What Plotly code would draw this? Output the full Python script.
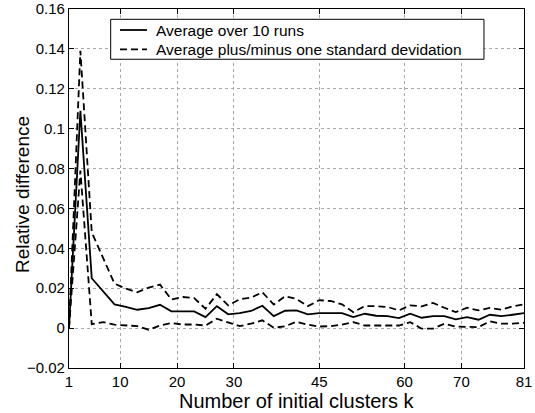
import plotly.graph_objects as go

k_values = [1, 3, 5, 7, 9, 11, 13, 15, 17, 19, 21, 23, 25, 27, 29, 31, 33, 35, 37, 39,
            41, 43, 45, 47, 49, 51, 53, 55, 57, 59, 61, 63, 65, 67, 69, 71, 73, 75, 77, 79, 81]

avg_diff = [0, 0.109, 0.025, 0.0186, 0.0119, 0.0106, 0.0092, 0.010, 0.0117, 0.0084,
            0.0084, 0.0084, 0.0055, 0.011, 0.0069, 0.0075, 0.0086, 0.0112, 0.006, 0.0087,
            0.0089, 0.0069, 0.0075, 0.0075, 0.0075, 0.0055, 0.0072, 0.0062, 0.006, 0.005,
            0.0072, 0.0052, 0.006, 0.006, 0.0044, 0.0055, 0.0042, 0.0067, 0.006, 0.0067,
            0.0075]

upper_diff = [0, 0.139, 0.048, 0.035, 0.0223, 0.0198, 0.018, 0.0203, 0.0218, 0.0144,
              0.0156, 0.0151, 0.0097, 0.017, 0.0114, 0.0144, 0.0153, 0.018, 0.0118, 0.016,
              0.0146, 0.011, 0.014, 0.0136, 0.0119, 0.008, 0.011, 0.011, 0.0106, 0.0089,
              0.0114, 0.0109, 0.0126, 0.0102, 0.008, 0.0102, 0.0089, 0.0101, 0.0092, 0.0109,
              0.0119]

lower_diff = [0, 0.079, 0.002, 0.003, 0.0017, 0.0015, 0.001, -0.0008, 0.0013, 0.0025,
              0.0018, 0.0018, 0.0013, 0.0047, 0.003, 0.001, 0.0022, 0.0039, 0.0002, 0.0009,
              0.0032, 0.0017, 0.0008, 0.001, 0.0018, 0.003, 0.0013, 0.0013, 0.001, 0.0013,
              0.003, -0.0003, -0.0003, 0.0022, 0.0008, 0.0008, 0.0005, 0.0034, 0.0022, 0.0022,
              0.0027]

x_tickvals = [1, 10, 20, 30, 45, 60, 70, 81]
y_tickvals = [-0.02, 0, 0.02, 0.04, 0.06, 0.08, 0.1, 0.12, 0.14, 0.16]
y_ticktext = ["\u22120.02", "0", "0.02", "0.04", "0.06", "0.08", "0.1", "0.12", "0.14", "0.16"]

x_title = "Number of initial clusters k"
y_title = "Relative difference"
legend_labels = ["Average over 10 runs", "Average plus/minus one standard devidation"]

FONT = "Liberation Sans, Arial, Helvetica, sans-serif"
DASH = "7px,4px"

fig = go.Figure()
fig.add_trace(go.Scatter(x=k_values, y=avg_diff, mode="lines",
                         name=legend_labels[0],
                         line=dict(color="black", width=1.8)))
fig.add_trace(go.Scatter(x=k_values, y=upper_diff, mode="lines",
                         name=legend_labels[1],
                         line=dict(color="black", width=1.8, dash=DASH)))
fig.add_trace(go.Scatter(x=k_values, y=lower_diff, mode="lines",
                         name=legend_labels[1],
                         line=dict(color="black", width=1.8, dash=DASH)))

axis_common = dict(
    showline=True, linecolor="black", linewidth=1.3, mirror="ticks",
    ticks="inside", ticklen=5, tickcolor="black", tickwidth=1,
    showgrid=True, gridcolor="#a8a8a8", griddash="dot", gridwidth=1,
    zeroline=False, automargin=False,
    tickfont=dict(family=FONT, size=15, color="black"),
)

# legend box drawn in paper coordinates (MATLAB-style compact legend)
legend_shapes = [
    dict(type="rect", xref="paper", yref="paper", x0=0.0916, x1=0.912,
         y0=0.860, y1=0.9713, line=dict(color="black", width=1),
         fillcolor="white", layer="above"),
    dict(type="line", xref="paper", yref="paper", x0=0.1121, x1=0.1714,
         y0=0.9415, y1=0.9415, line=dict(color="black", width=1.8), layer="above"),
    dict(type="line", xref="paper", yref="paper", x0=0.1121, x1=0.1714,
         y0=0.8877, y1=0.8877, line=dict(color="black", width=1.8, dash=DASH),
         layer="above"),
]

annotations = [
    dict(text=x_title, xref="paper", yref="paper", x=0.5, y=0,
         xanchor="center", yanchor="top", yshift=-20, showarrow=False,
         font=dict(family=FONT, size=20, color="black")),
    dict(text=y_title, xref="paper", yref="paper", x=-0.101, y=0.482,
         xanchor="center", yanchor="middle", textangle=-90, showarrow=False,
         font=dict(family=FONT, size=19, color="black")),
    dict(text=legend_labels[0], xref="paper", yref="paper", x=0.187, y=0.9401,
         xanchor="left", yanchor="middle", showarrow=False,
         font=dict(family=FONT, size=15.5, color="black")),
    dict(text=legend_labels[1], xref="paper", yref="paper", x=0.187, y=0.8872,
         xanchor="left", yanchor="middle", showarrow=False,
         font=dict(family=FONT, size=15.5, color="black")),
]

fig.update_layout(
    width=535, height=413,
    margin=dict(l=69, r=11, t=9, b=45),
    paper_bgcolor="white", plot_bgcolor="white",
    font=dict(family=FONT, color="black"),
    xaxis=dict(range=[1, 81], tickvals=x_tickvals, **axis_common),
    yaxis=dict(range=[-0.02, 0.16], tickvals=y_tickvals, ticktext=y_ticktext,
               **axis_common),
    showlegend=False,
    shapes=legend_shapes,
    annotations=annotations,
)

fig.write_html(
    "out.html",
    config={"displayModeBar": False},
    post_script="document.documentElement.style.margin='0';"
                "document.body.style.margin='0';"
                "document.body.style.overflow='hidden';",
)
